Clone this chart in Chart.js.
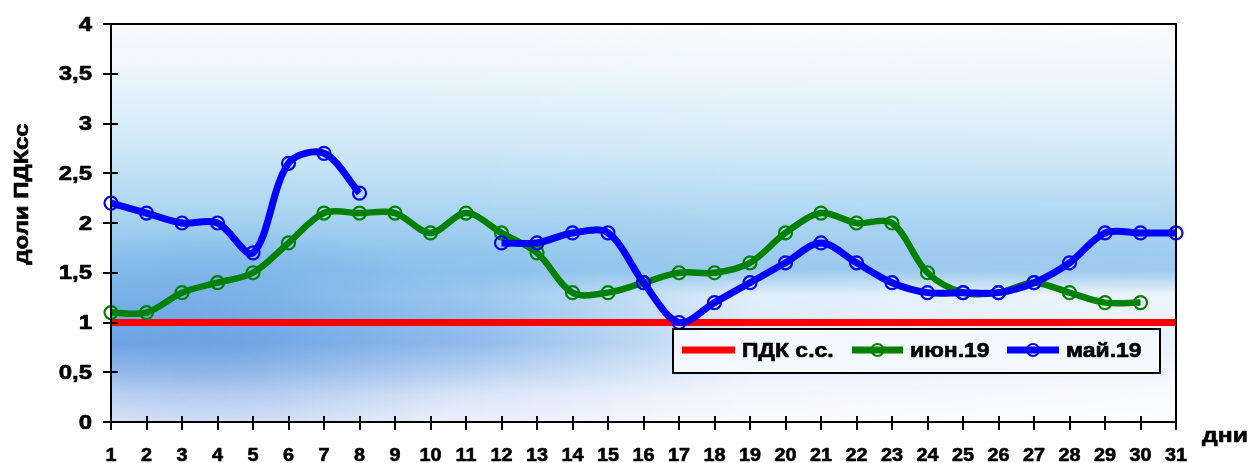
<!DOCTYPE html>
<html>
<head>
<meta charset="utf-8">
<script src="https://cdn.jsdelivr.net/npm/chart.js@4/dist/chart.umd.min.js"></script>
<style>
  html, body { margin: 0; padding: 0; background: #ffffff; }
  #wrap { width: 1250px; height: 463px; position: relative; }
</style>
</head>
<body>
<div id="wrap"><canvas id="c" width="1250" height="463"></canvas></div>
<script>
// Days of the month
const days = ['1','2','3','4','5','6','7','8','9','10','11','12','13','14','15','16','17','18','19','20','21','22','23','24','25','26','27','28','29','30','31'];
// Maximum permissible concentration (daily average) level
const pdk = [1,1,1,1,1,1,1,1,1,1,1,1,1,1,1,1,1,1,1,1,1,1,1,1,1,1,1,1,1,1,1];
// June 2019, fractions of ПДКсс
const june19 = [1.1,1.1,1.3,1.4,1.5,1.8,2.1,2.1,2.1,1.9,2.1,1.9,1.7,1.3,1.3,1.4,1.5,1.5,1.6,1.9,2.1,2.0,2.0,1.5,1.3,1.3,1.4,1.3,1.2,1.2,null];
// May 2019, fractions of ПДКсс
const may19 = [2.2,2.1,2.0,2.0,1.7,2.6,2.7,2.3,null,null,null,1.8,1.8,1.9,1.9,1.4,1.0,1.2,1.4,1.6,1.8,1.6,1.4,1.3,1.3,1.3,1.4,1.6,1.9,1.9,1.9];
// Y axis tick labels (0 .. 4 step 0.5)
const yTickLabels = ['0','0,5','1','1,5','2','2,5','3','3,5','4'];
const seriesNames = ['ПДК с.с.', 'июн.19', 'май.19'];
const yTitle = 'доли ПДКсс';
const xTitle = 'дни';

const FONT = '"Liberation Sans", Arial, sans-serif';

// Draws heavy text with a horizontal stretch (wide bold lettering)
function wideText(ctx, text, x, y, size, align, sx, baseline) {
  ctx.save();
  ctx.font = 'bold ' + size + 'px ' + FONT;
  ctx.textBaseline = baseline || 'middle';
  ctx.textAlign = 'left';
  const w = ctx.measureText(text).width * sx;
  let x0 = x;
  if (align === 'center') x0 = x - w / 2;
  else if (align === 'right') x0 = x - w;
  ctx.translate(x0, y);
  ctx.scale(sx, 1);
  ctx.fillStyle = '#000';
  ctx.strokeStyle = '#000';
  ctx.lineWidth = 0.6;
  ctx.lineJoin = 'round';
  ctx.fillText(text, 0, 0);
  ctx.strokeText(text, 0, 0);
  ctx.restore();
}

// Plot-area background: soft blue gradient, whiter towards the lower right
const bgPlugin = {
  id: 'bgPlugin',
  beforeDatasetsDraw(chart) {
    const { ctx, chartArea: a } = chart;
    const w = a.right - a.left, h = a.bottom - a.top;
    ctx.save();
    ctx.beginPath();
    ctx.rect(a.left, a.top, w, h);
    ctx.clip();
    const g = ctx.createLinearGradient(0, a.top, 0, a.bottom);
    g.addColorStop(0, '#f7fbfe');
    g.addColorStop(0.1, '#eef7fc');
    g.addColorStop(0.3, '#d0e9f7');
    g.addColorStop(0.45, '#afd8f2');
    g.addColorStop(0.58, '#8fc4ed');
    g.addColorStop(0.7, '#80b9ea');
    g.addColorStop(0.8, '#77ace7');
    g.addColorStop(0.87, '#a6c6ef');
    g.addColorStop(0.93, '#d2e0f6');
    g.addColorStop(1, '#e6ecfa');
    ctx.fillStyle = g;
    ctx.fillRect(a.left, a.top, w, h);

    // deeper blue patch on the left below the middle
    ctx.save();
    ctx.translate(a.left + 120, a.top + h * 0.8);
    ctx.scale(2.2, 1);
    const r = ctx.createRadialGradient(0, 0, 5, 0, 0, 120);
    r.addColorStop(0, 'rgba(80,140,220,0.45)');
    r.addColorStop(1, 'rgba(80,140,220,0)');
    ctx.fillStyle = r;
    ctx.fillRect(-200, -150, 400, 300);
    ctx.restore();

    // whitening of the lower right part
    const off = document.createElement('canvas');
    off.width = Math.ceil(w); off.height = Math.ceil(h);
    const o = off.getContext('2d');
    const hg = o.createLinearGradient(0, 0, w, 0);
    hg.addColorStop(0, 'rgba(255,255,255,0)');
    hg.addColorStop(0.35, 'rgba(255,255,255,0.2)');
    hg.addColorStop(0.6, 'rgba(255,255,255,0.75)');
    hg.addColorStop(1, 'rgba(255,255,255,0.85)');
    o.fillStyle = hg;
    o.fillRect(0, 0, w, h);
    o.globalCompositeOperation = 'destination-in';
    const vg = o.createLinearGradient(0, 0, 0, h);
    vg.addColorStop(0, 'rgba(0,0,0,0.25)');
    vg.addColorStop(0.5, 'rgba(0,0,0,0.1)');
    vg.addColorStop(0.62, 'rgba(0,0,0,0.2)');
    vg.addColorStop(0.68, 'rgba(0,0,0,1)');
    vg.addColorStop(1, 'rgba(0,0,0,1)');
    o.fillStyle = vg;
    o.fillRect(0, 0, w, h);
    ctx.drawImage(off, a.left, a.top);
    ctx.restore();
  }
};

// Frame, crossing tick marks, tick labels, axis titles and the legend box
const framePlugin = {
  id: 'framePlugin',
  afterDraw(chart) {
    const { ctx, chartArea: a } = chart;
    const xs = chart.scales.x, ys = chart.scales.y;
    ctx.save();
    ctx.strokeStyle = '#000';
    ctx.lineWidth = 2;
    ctx.strokeRect(a.left, a.top, a.right - a.left, a.bottom - a.top);
    ctx.beginPath();
    ys.ticks.forEach(t => {
      const y = Math.round(ys.getPixelForValue(t.value));
      ctx.moveTo(a.left - 8, y);
      ctx.lineTo(a.left + 7, y);
    });
    for (let i = 0; i < days.length; i++) {
      const x = Math.round(xs.getPixelForValue(i));
      ctx.moveTo(x, a.bottom - 6);
      ctx.lineTo(x, a.bottom + 8);
    }
    ctx.stroke();

    // tick labels
    ys.ticks.forEach(t => {
      const y = ys.getPixelForValue(t.value);
      wideText(ctx, yTickLabels[Math.round(t.value * 2)], a.left - 19, y + 1, 20, 'right', 1.2);
    });
    for (let i = 0; i < days.length; i++) {
      wideText(ctx, days[i], xs.getPixelForValue(i), 461, 18, 'center', 1.1, 'alphabetic');
    }

    // axis titles
    wideText(ctx, xTitle, a.right + 26, a.bottom + 14, 21, 'left', 1.18);
    ctx.save();
    ctx.translate(22, 194);
    ctx.rotate(-Math.PI / 2);
    wideText(ctx, yTitle, 0, 0, 20, 'center', 1.2);
    ctx.restore();

    // legend
    const lx = 673, ly = 329, lw = 487, lh = 44;
    ctx.fillStyle = 'rgba(245,249,254,0.9)';
    ctx.fillRect(lx, ly, lw, lh);
    ctx.strokeStyle = '#000';
    ctx.lineWidth = 2;
    ctx.strokeRect(lx, ly, lw, lh);
    const cy = ly + lh / 2 - 1;
    const ds = chart.data.datasets;
    const items = [
      { x0: 682, x1: 735, tx: 742, d: ds[0], marker: false },
      { x0: 852, x1: 903, tx: 910, d: ds[1], marker: true },
      { x0: 1007, x1: 1059, tx: 1066, d: ds[2], marker: true }
    ];
    items.forEach(it => {
      ctx.strokeStyle = it.d.borderColor;
      ctx.lineWidth = 7;
      ctx.beginPath();
      ctx.moveTo(it.x0, cy);
      ctx.lineTo(it.x1, cy);
      ctx.stroke();
      if (it.marker) {
        ctx.lineWidth = 2;
        ctx.beginPath();
        ctx.arc((it.x0 + it.x1) / 2, cy, 6, 0, Math.PI * 2);
        ctx.stroke();
      }
      wideText(ctx, it.d.label, it.tx, cy + 1, 20, 'left', 1.15);
    });
    ctx.restore();
  }
};

new Chart(document.getElementById('c'), {
  type: 'line',
  data: {
    labels: days,
    datasets: [
      {
        label: seriesNames[0], data: pdk, borderColor: '#ff0000', borderWidth: 7,
        pointRadius: 0, tension: 0, order: 3
      },
      {
        label: seriesNames[1], data: june19, borderColor: '#008000', borderWidth: 6.5,
        pointRadius: 6.5, pointBorderWidth: 2.2, pointBorderColor: '#008000',
        pointBackgroundColor: 'rgba(0,0,0,0)', tension: 0.33, spanGaps: false, order: 2
      },
      {
        label: seriesNames[2], data: may19, borderColor: '#0000ff', borderWidth: 7,
        pointRadius: 6.5, pointBorderWidth: 2.2, pointBorderColor: '#0000ff',
        pointBackgroundColor: 'rgba(0,0,0,0)', tension: 0.33, spanGaps: false, order: 1
      }
    ]
  },
  options: {
    responsive: false,
    animation: false,
    devicePixelRatio: 1,
    layout: { padding: { left: 0, right: 74, top: 24, bottom: 0 } },
    plugins: { legend: { display: false }, tooltip: { enabled: false } },
    scales: {
      x: {
        type: 'category',
        offset: false,
        grid: { display: false, drawTicks: false },
        border: { display: true, color: '#000', width: 2 },
        ticks: { display: false, autoSkip: false },
        afterFit(s) { s.height = 41; }
      },
      y: {
        min: 0, max: 4,
        grid: { display: false, drawTicks: false },
        border: { display: true, color: '#000', width: 2 },
        ticks: { display: false, stepSize: 0.5 },
        afterFit(s) { s.width = 111; }
      }
    }
  },
  plugins: [bgPlugin, framePlugin]
});
</script>
</body>
</html>
